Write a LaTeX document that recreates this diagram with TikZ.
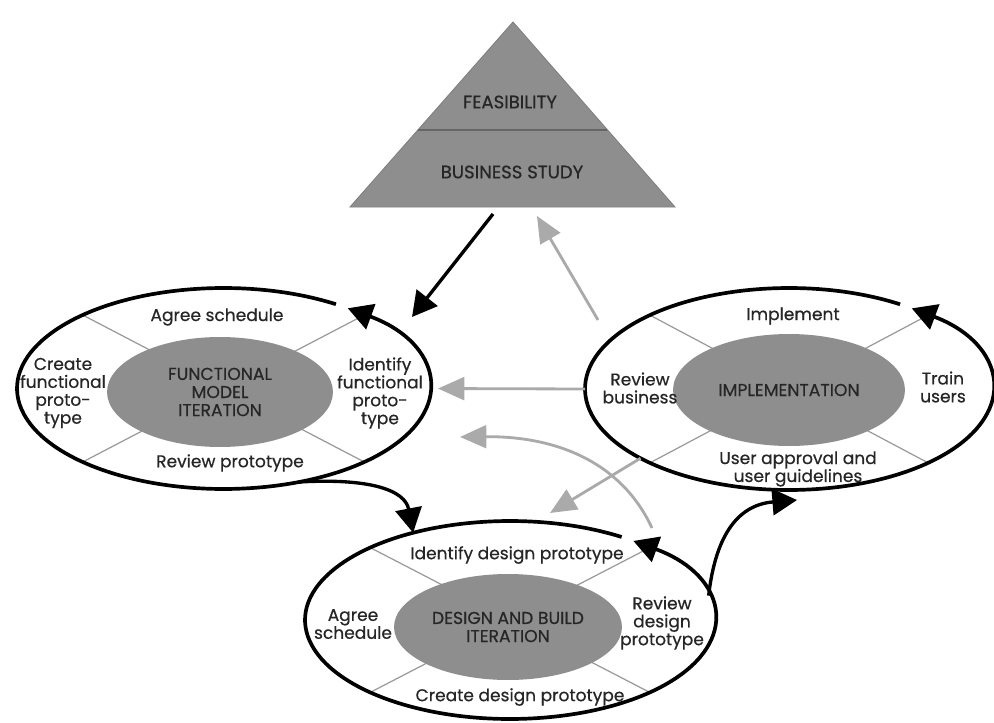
\documentclass[tikz,border=0pt]{standalone}
\usepackage{fontspec}
\setmainfont{Poppins}
\newfontfamily\diagfont{Poppins}[FakeBold=0.5]
\usetikzlibrary{arrows.meta,shapes.geometric}
\definecolor{phasegrey}{HTML}{8E8E8E}
\definecolor{flowgrey}{HTML}{AAAAAA}
\definecolor{spokegrey}{HTML}{9A9A9A}
\definecolor{inkcol}{HTML}{262626}

\begin{document}
\begin{tikzpicture}[x=0.02cm, y=-0.02cm,
  lbl/.style={font=\diagfont\fontsize{9.7}{10.2}\selectfont, text=inkcol, align=center, inner sep=0pt},
  caps/.style={font=\diagfont\fontsize{9.8}{10.3}\selectfont, text=inkcol, align=center, inner sep=0pt},
  ring/.style={ellipse, draw=none, inner sep=0pt, outer sep=0pt},
  core/.style={ellipse, fill=phasegrey, draw=none, caps},
  loopline/.style={draw=black, line width=2.1pt, -{Triangle[length=14pt,width=15pt]}},
  spoke/.style={draw=spokegrey, line width=0.7pt},
  blackflow/.style={draw=black, line width=1.9pt, -{Triangle[length=14pt,width=15pt]}},
  greyflow/.style={draw=flowgrey, line width=1.6pt, -{Triangle[length=15pt,width=13pt]}}
]

% ---------- canvas ----------
\useasboundingbox (0,0) rectangle (994,723);
\fill[white] (0,0) rectangle (994,723);

% ---------- ring macro ----------
\newcommand{\drawring}[5]{%
  % #1 = name, #2 = x, #3 = y, #4 = x radius, #5 = y radius
  \node[ring, minimum width=2*#4, minimum height=2*#5] (#1) at (#2,#3) {};
  \foreach \a in {47,133,227,313}
    \draw[spoke] (#1.center) -- ++(\a:#4 and #5);
  \draw[loopline] ([shift={(57:#4 and #5)}]#1.center)
    arc[start angle=57, end angle=413, x radius=#4, y radius=#5];
}

% ==================================================
% Feasibility / business study
% ==================================================
\coordinate (apex) at (513,22);
\coordinate (baseL) at (350,207);
\coordinate (baseR) at (675,207);
\filldraw[fill=phasegrey, draw=black!50, line width=0.5pt] (apex) -- (baseL) -- (baseR) -- cycle;
\draw[black!60, line width=1.1pt] (418,130) -- (607,130);
\node[caps, font=\diagfont\fontsize{10.3}{11}\selectfont] (feas) at (510,102) {FEASIBILITY};
\node[caps, font=\diagfont\fontsize{10.3}{11}\selectfont] (bstudy) at (512,172) {BUSINESS STUDY};

% ==================================================
% Rings
% ==================================================
\drawring{fmring}{223.5}{388.5}{4.13cm}{2.01cm}
\drawring{impring}{789}{389}{4.08cm}{2.02cm}
\drawring{dbring}{510}{620}{4.10cm}{1.98cm}

% ---------- grey feedback ----------
\coordinate (backA) at (598,320);
\coordinate (triin) at (537,216);
\draw[greyflow] (backA) -- (triin);
\draw[greyflow, shorten >=0.16cm] (impring.west) -- (fmring.east);
\coordinate (backC) at (652,528);
\coordinate (fmback) at (460,437);
\draw[greyflow] (backC) .. controls (618,455) and (545,436) .. (fmback);
\coordinate (dbin) at (550,513);
\draw[greyflow] (impring.205) -- (dbin);

% ---------- cores ----------
\node[core, minimum width=4.52cm, minimum height=2.2cm] (fmcore) at (220,392) {FUNCTIONAL\\MODEL\\ITERATION};
\node[core, minimum width=4.64cm, minimum height=2.24cm] (impcore) at (789,390) {IMPLEMENTATION};
\node[core, minimum width=4.56cm, minimum height=2.12cm] (dbcore) at (508,627) {DESIGN AND BUILD\\ITERATION};

% ==================================================
% Functional model iteration
% ==================================================
\node[lbl] (fmtop) at (217,317) {Agree schedule};
\node[lbl] (fmleft) at (63,393) {Create\\functional\\proto-\\type};
\node[lbl] (fmright) at (380,393) {Identify\\functional\\proto-\\type};
\node[lbl] (fmbottom) at (230,463) {Review prototype};

% ==================================================
% Implementation
% ==================================================
\node[lbl] (imptop) at (793,316) {Implement};
\node[lbl] (impleft) at (640,388) {Review\\business};
\node[lbl] (impright) at (943,387) {Train\\users};
\node[lbl] (impbottom) at (798,469) {User approval and\\user guidelines};

% ==================================================
% Design and build iteration
% ==================================================
\node[lbl] (dbtop) at (517,555) {Identify design prototype};
\node[lbl] (dbleft) at (353,624) {Agree\\schedule};
\node[lbl] (dbright) at (662,623) {Review\\design\\prototype};
\node[lbl] (dbbottom) at (520,697) {Create design prototype};

% ---------- forward flow ----------
\coordinate (triout) at (493,214);
\coordinate (fmin) at (412,317);
\draw[blackflow] (triout) -- (fmin);
\draw[blackflow] (fmring.-51) .. controls (370,478) and (405,490) .. (dbring.138);
\coordinate (impin) at (797,500);
\draw[blackflow] (dbring.7) .. controls (715,540) and (735,505) .. (impin);

\end{tikzpicture}
\end{document}
